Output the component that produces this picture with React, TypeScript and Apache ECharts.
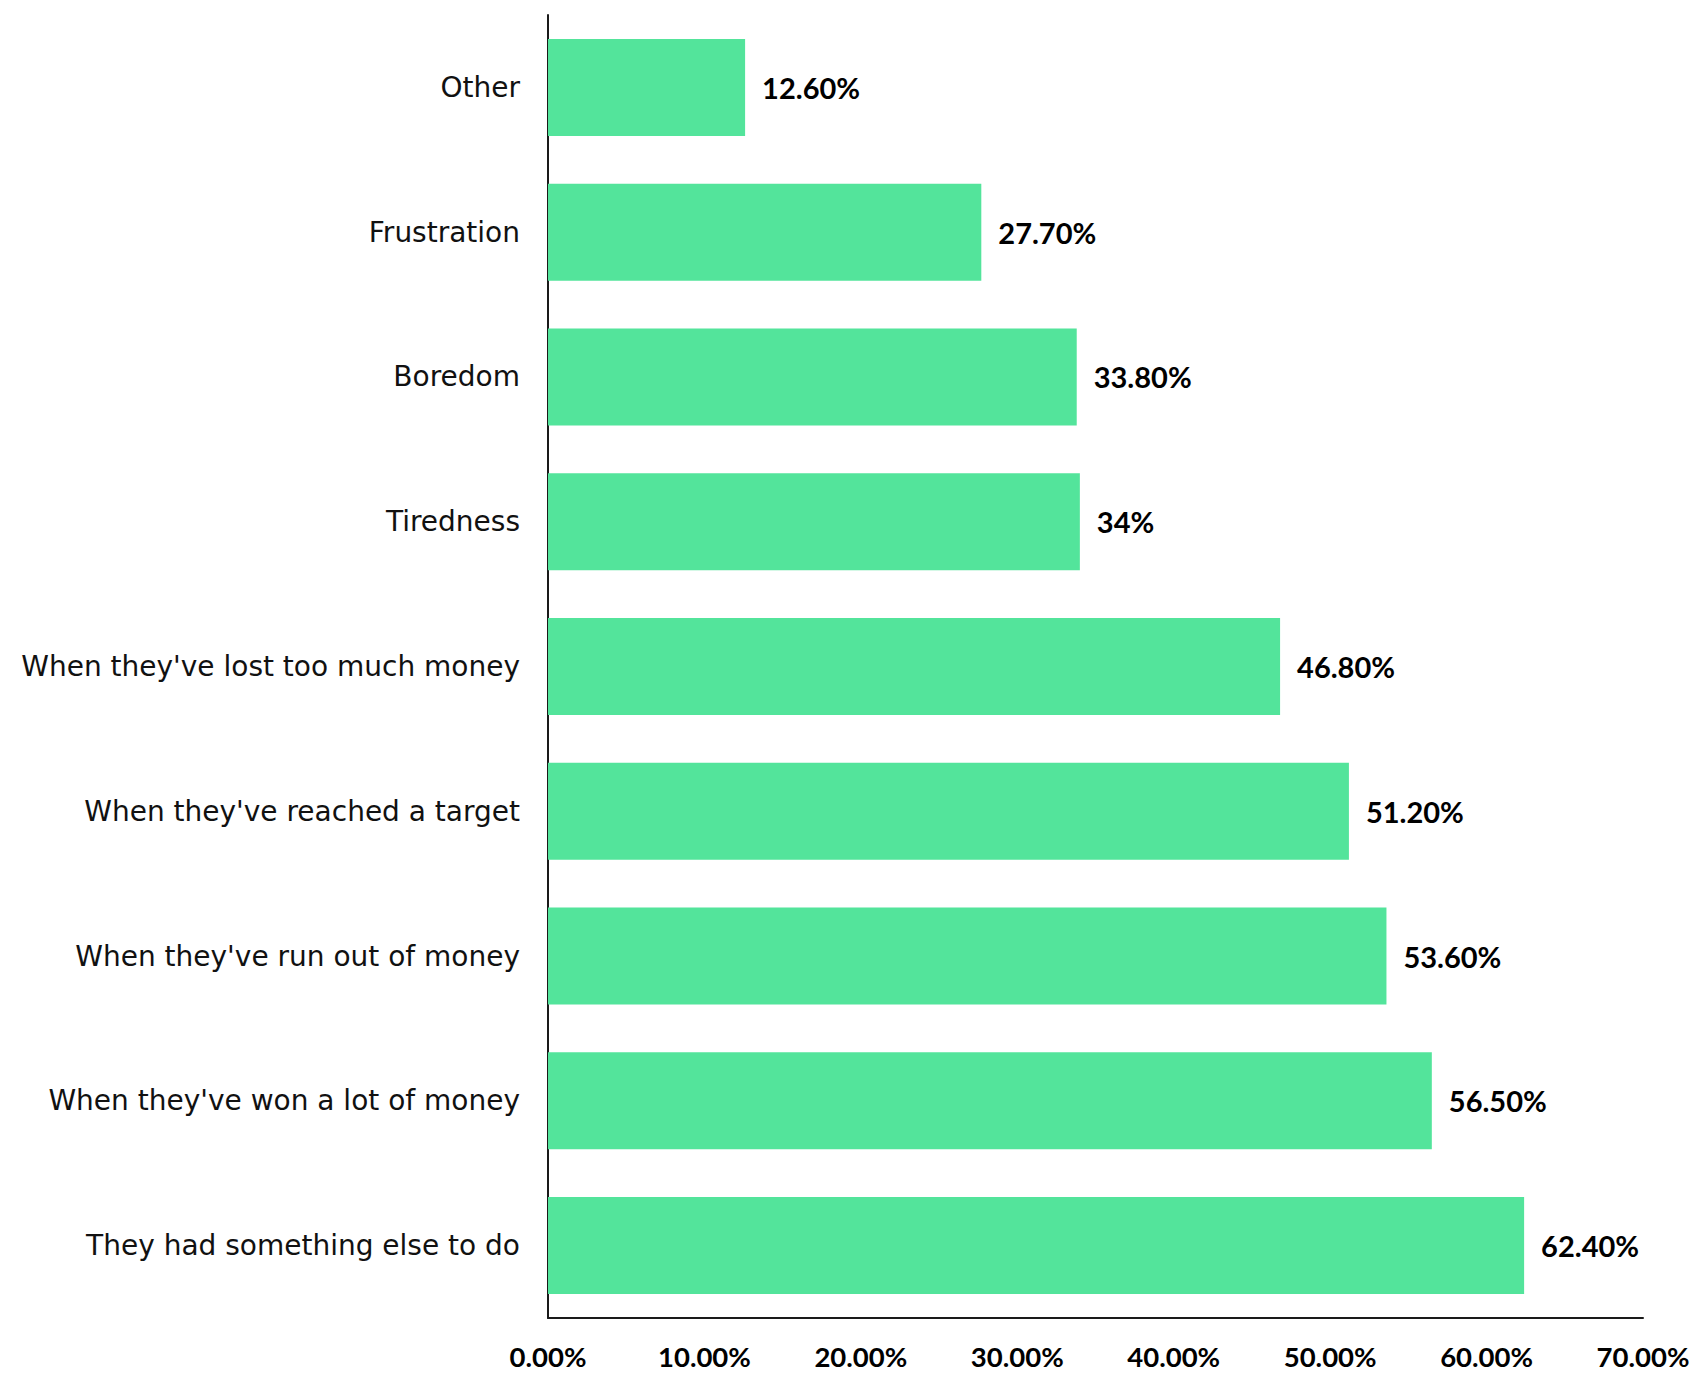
import React, { useEffect, useRef } from "react";
import * as echarts from "echarts";

const categories = [
  "Other",
  "Frustration",
  "Boredom",
  "Tiredness",
  "When they've lost too much money",
  "When they've reached a target",
  "When they've run out of money",
  "When they've won a lot of money",
  "They had something else to do",
];
const values = [12.6, 27.7, 33.8, 34, 46.8, 51.2, 53.6, 56.5, 62.4];
const valueLabels = ["12.60%", "27.70%", "33.80%", "34%", "46.80%", "51.20%", "53.60%", "56.50%", "62.40%"];
const xTicks = [0, 10, 20, 30, 40, 50, 60, 70];

export default function App() {
  const ref = useRef<HTMLDivElement>(null);
  useEffect(() => {
    document.body.style.margin = "0";
    const chart = echarts.init(ref.current!, undefined, { renderer: "svg" });
    chart.setOption({
      animation: false,
      backgroundColor: "#ffffff",
      grid: {
        left: 548,
        top: 15,
        width: 1095,
        height: 1303,
        containLabel: false,
        outerBoundsMode: "none",
      },
      xAxis: {
        type: "value",
        min: 0,
        max: 70,
        interval: 10,
        axisLine: { show: true, lineStyle: { color: "#1a1a1a", width: 2 } },
        axisTick: { show: false },
        splitLine: { show: false },
        axisLabel: {
          margin: 24,
          color: "#000",
          fontFamily: "Lato",
          fontWeight: "bold",
          fontSize: 27.5,
          formatter: (v: number) => (xTicks.includes(v) ? v.toFixed(2) + "%" : ""),
        },
      },
      yAxis: {
        type: "category",
        data: categories,
        inverse: true,
        axisLine: { show: true, lineStyle: { color: "#1a1a1a", width: 2 } },
        axisTick: { show: false },
        axisLabel: {
          margin: 28,
          color: "#111",
          fontFamily: "DejaVu Sans",
          fontSize: 28,
        },
      },
      series: [
        {
          type: "bar",
          data: values,
          barWidth: "67%",
          itemStyle: { color: "#53E49B" },
          label: {
            show: true,
            position: "right",
            distance: 17,
            color: "#000",
            fontFamily: "Lato",
            fontWeight: "bold",
            fontSize: 29,
            formatter: (p: any) => valueLabels[p.dataIndex],
          },
        },
      ],
    });
    return () => chart.dispose();
  }, []);
  return <div ref={ref} style={{ width: 1690, height: 1376 }} />;
}
